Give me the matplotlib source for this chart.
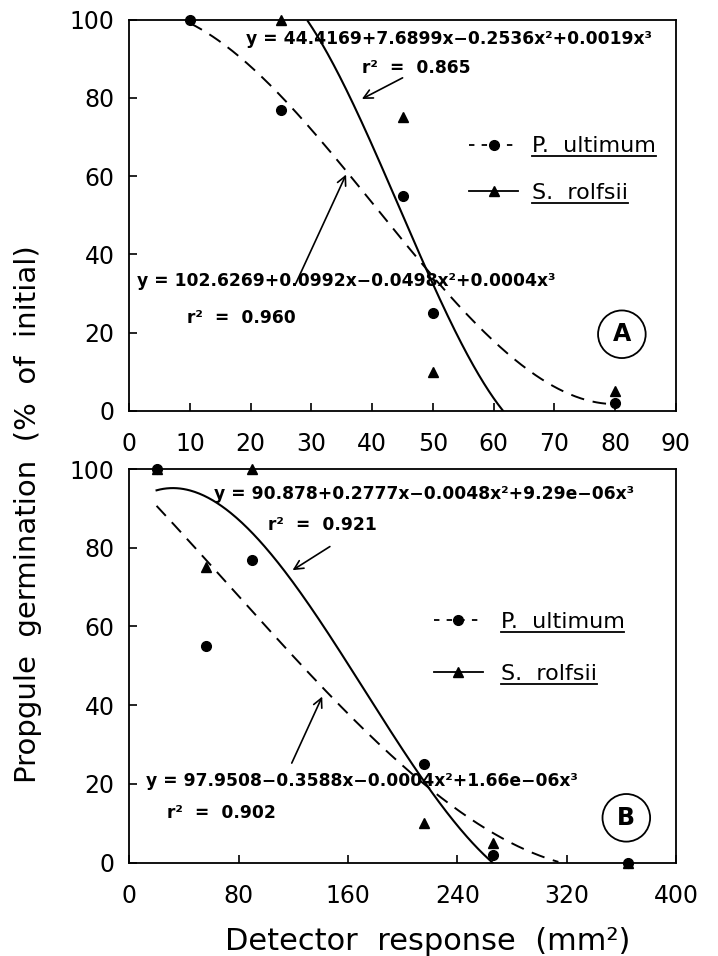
import matplotlib
matplotlib.use("Agg")
import matplotlib.pyplot as plt
import numpy as np
from matplotlib.lines import Line2D

# ---- panel A ----
a_pu_x = [10, 25, 45, 50, 80]
a_pu_y = [100, 77, 55, 25, 2]
a_sr_x = [25, 45, 50, 80]
a_sr_y = [100, 75, 10, 5]
# cubic fits c0..c3 as printed (a few rounded terms read a little finer off the curves)
a_pu_coef = [102.6269, 0.0992, -0.0498, 0.00041]
a_sr_coef = [44.4169, 7.6899, -0.2536, 0.0019]
a_pu_span = [10, 80]
a_sr_span = [29.4, 62]
a_sr_eq = "y = 44.4169+7.6899x\u22120.2536x\u00b2+0.0019x\u00b3"
a_sr_r2 = "r\u00b2  =  0.865"
a_pu_eq = "y = 102.6269+0.0992x\u22120.0498x\u00b2+0.0004x\u00b3"
a_pu_r2 = "r\u00b2  =  0.960"

# ---- panel B ----
b_pu_x = [20, 56, 90, 216, 266, 365]
b_pu_y = [100, 55, 77, 25, 2, 0]
b_sr_x = [20, 56, 90, 216, 266, 365]
b_sr_y = [100, 75, 100, 10, 5, 0]
b_pu_coef = [97.9508, -0.3588, -0.00037, 1.66e-06]
b_sr_coef = [90.878, 0.2777, -0.0048, 9.29e-06]
b_pu_span = [20, 314]
b_sr_span = [20, 266]
b_sr_eq = "y = 90.878+0.2777x\u22120.0048x\u00b2+9.29e\u221206x\u00b3"
b_sr_r2 = "r\u00b2  =  0.921"
b_pu_eq = "y = 97.9508\u22120.3588x\u22120.0004x\u00b2+1.66e\u221206x\u00b3"
b_pu_r2 = "r\u00b2  =  0.902"

species = ["P.  ultimum", "S.  rolfsii"]
ylabel = "Propgule  germination  (%  of  initial)"
xlabel = "Detector  response  (mm\u00b2)"


def cubic(coef, span):
    x = np.linspace(span[0], span[1], 300)
    y = coef[0] + coef[1] * x + coef[2] * x**2 + coef[3] * x**3
    return x, y


def draw_panel(ax, pu_x, pu_y, sr_x, sr_y, pu_coef, pu_span, sr_coef, sr_span):
    x, y = cubic(pu_coef, pu_span)
    ax.plot(x, y, color="k", lw=1.4, ls=(0, (7, 4.5)))
    x, y = cubic(sr_coef, sr_span)
    ax.plot(x, y, color="k", lw=1.5)
    ax.plot(pu_x, pu_y, "o", color="k", ms=7, clip_on=False, zorder=5)
    ax.plot(sr_x, sr_y, "^", color="k", ms=7, clip_on=False, zorder=5)
    for s in ax.spines.values():
        s.set_linewidth(1.3)
    ax.tick_params(direction="in", length=6, width=1.2, labelsize=17)
    ax.tick_params(axis="x", pad=15)
    ax.tick_params(axis="y", pad=10.5)


def arrow(ax, start, tip):
    ax.annotate("", xy=tip, xytext=start,
                arrowprops=dict(arrowstyle="->", lw=1.2, color="k",
                                shrinkA=0, shrinkB=0, mutation_scale=16))


def key(ax, anchor, spacing, textpad):
    handles = [
        Line2D([], [], color="k", lw=1.3, ls=(0, (3, 4)), marker="o", ms=7),
        Line2D([], [], color="k", lw=1.3, marker="^", ms=7),
    ]
    return ax.legend(handles, species, loc="upper left", bbox_to_anchor=anchor,
                     frameon=False, fontsize=16, handlelength=2.2,
                     handletextpad=textpad, labelspacing=spacing, borderpad=0)


fig = plt.figure(figsize=(7.18, 9.56), dpi=100)
axA = fig.add_axes([0.180, 0.5701, 0.7614, 0.4095])
axB = fig.add_axes([0.180, 0.0976, 0.7614, 0.4118])

draw_panel(axA, a_pu_x, a_pu_y, a_sr_x, a_sr_y, a_pu_coef, a_pu_span, a_sr_coef, a_sr_span)
axA.set_xlim(0, 90)
axA.set_ylim(0, 100)
axA.set_xticks(np.arange(0, 91, 10))
axA.set_yticks(np.arange(0, 101, 20))

txt = dict(fontsize=12.3, fontweight="bold", ha="center", va="center")
axA.text(52.6, 95.0, a_sr_eq, **txt)
axA.text(47.2, 87.7, a_sr_r2, **txt)
axA.text(35.8, 33.2, a_pu_eq, **txt)
axA.text(18.5, 23.8, a_pu_r2, **txt)
arrow(axA, (45.0, 85.1), (38.3, 79.7))
arrow(axA, (27.4, 32.5), (35.7, 60.4))
axA.text(81.1, 19.6, "A", fontsize=17, fontweight="bold", ha="center", va="center",
         bbox=dict(boxstyle="circle,pad=0.5", fc="none", ec="k", lw=1.3))
legA = key(axA, (0.602, 0.73), 1.2, 0.6)

draw_panel(axB, b_pu_x, b_pu_y, b_sr_x, b_sr_y, b_pu_coef, b_pu_span, b_sr_coef, b_sr_span)
axB.set_xlim(0, 400)
axB.set_ylim(0, 100)
axB.set_xticks(np.arange(0, 401, 80))
axB.set_yticks(np.arange(0, 101, 20))
axB.text(215.7, 93.7, b_sr_eq, **txt)
axB.text(141.1, 85.7, b_sr_r2, **txt)
axB.text(170.4, 20.7, b_pu_eq, **txt)
axB.text(67.8, 12.7, b_pu_r2, **txt)
arrow(axB, (146.8, 80.3), (119.5, 74.3))
arrow(axB, (118.9, 25.3), (141.2, 42.2))
axB.text(363.7, 11.4, "B", fontsize=17, fontweight="bold", ha="center", va="center",
         bbox=dict(boxstyle="circle,pad=0.5", fc="none", ec="k", lw=1.3))
legB = key(axB, (0.537, 0.665), 1.45, 0.8)

fig.text(28 / 718, 1 - 514 / 956, ylabel, rotation=90, fontsize=21, ha="center", va="center")
fig.text(428 / 718, 1 - 941 / 956, xlabel, fontsize=22, ha="center", va="center")

# underline the species names
fig.canvas.draw()
r = fig.canvas.get_renderer()
inv = fig.transFigure.inverted()
for leg in (legA, legB):
    for t in leg.get_texts():
        bb = t.get_window_extent(r)
        (x0, y0), (x1, _) = inv.transform([[bb.x0, bb.y0], [bb.x1, bb.y0]])
        fig.add_artist(Line2D([x0, x1], [y0, y0], color="k", lw=1.3))

fig.savefig("out.png", dpi=100)
